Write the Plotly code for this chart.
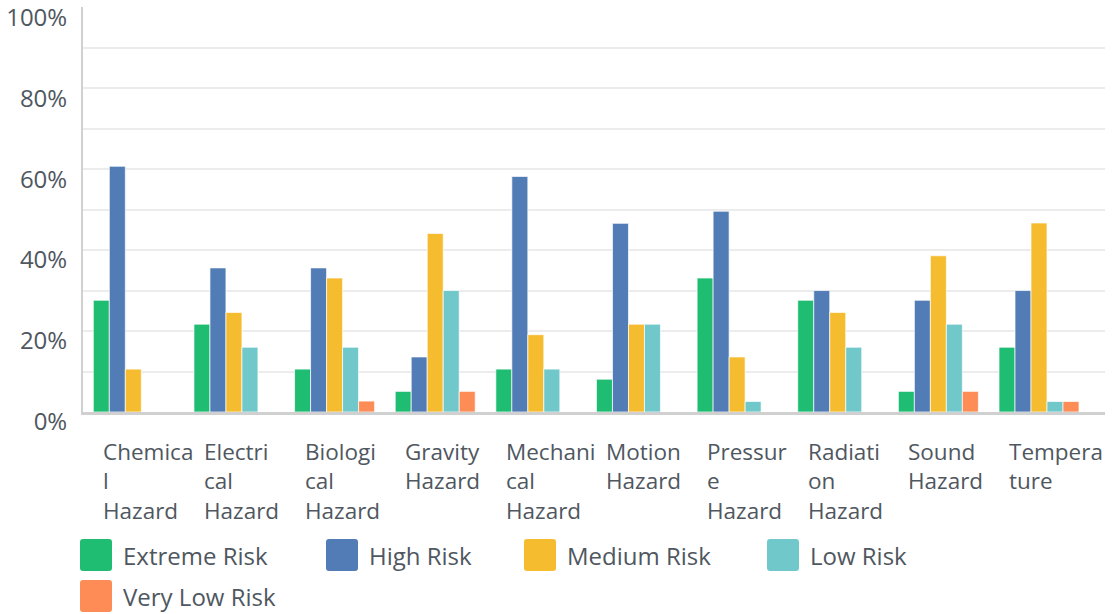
import plotly.graph_objects as go

categories = ["Chemical Hazard", "Electrical Hazard", "Biological Hazard", "Gravity Hazard",
              "Mechanical Hazard", "Motion Hazard", "Pressure Hazard", "Radiation Hazard",
              "Sound Hazard", "Temperature"]
# wrapped the way the narrow category slots break them
category_labels = ["Chemica<br>l<br>Hazard", "Electri<br>cal<br>Hazard", "Biologi<br>cal<br>Hazard",
                   "Gravity<br>Hazard", "Mechani<br>cal<br>Hazard", "Motion<br>Hazard",
                   "Pressur<br>e<br>Hazard", "Radiati<br>on<br>Hazard", "Sound<br>Hazard",
                   "Tempera<br>ture"]

series_names = ["Extreme Risk", "High Risk", "Medium Risk", "Low Risk", "Very Low Risk"]
extreme_risk = [27.6, 21.7, 10.6, 5.1, 10.6, 8.1, 33.1, 27.6, 5.1, 16.0]
high_risk = [60.7, 35.6, 35.6, 13.6, 58.2, 46.6, 49.6, 30.0, 27.6, 30.0]
medium_risk = [10.6, 24.6, 33.1, 44.1, 19.1, 21.7, 13.6, 24.6, 38.6, 46.7]
low_risk = [0.0, 16.0, 16.0, 30.0, 10.6, 21.7, 2.6, 16.0, 21.7, 2.6]
very_low_risk = [0.0, 0.0, 2.7, 5.1, 0.0, 0.0, 0.0, 0.0, 5.1, 2.6]
series_values = [extreme_risk, high_risk, medium_risk, low_risk, very_low_risk]
colors = ["#1ebd71", "#517cb5", "#f6bc2f", "#71c8ca", "#fe8c56"]

y_tick_vals = [0, 20, 40, 60, 80, 100]
y_tick_text = ["0%", "20%", "40%", "60%", "80%", "100%"]

# the chart box ends at the plot's right edge, so overflowing text is cut there
W, H = 1105, 614
ML, MR, MT, MB = 83, 0, 7, 202
PW, PH = W - ML - MR, H - MT - MB
TEXT = "#4f5760"
FONT = "Open Sans"

fig = go.Figure()
for name, vals, col in zip(series_names, series_values, colors):
    fig.add_trace(go.Bar(
        x=categories, y=vals, name=name, marker_color=col,
        marker_line=dict(color="rgba(255,255,255,0.7)", width=1),
        showlegend=False, hoverinfo="skip",
    ))

# wrapped, left-aligned category labels under each group
annotations = []
for cat, lab in zip(categories, category_labels):
    annotations.append(dict(
        x=cat, xref="x", y=0, yref="paper", yanchor="top", xanchor="left",
        xshift=-32, yshift=-22, text=lab, align="left", showarrow=False,
        font=dict(family=FONT, size=22.5, color=TEXT),
    ))


# legend: rounded swatch + label, laid out in two rows below the axis
def px_x(px):
    return (px - ML) / PW


def px_y(py):
    return (MT + PH - py) / PH


def rounded_square(x, y, size, r):
    x0, x1 = px_x(x), px_x(x + size)
    y0, y1 = px_y(y + size), px_y(y)
    rx, ry = r / PW, r / PH
    return (f"M{x0 + rx},{y1} L{x1 - rx},{y1} Q{x1},{y1} {x1},{y1 - ry} "
            f"L{x1},{y0 + ry} Q{x1},{y0} {x1 - rx},{y0} L{x0 + rx},{y0} "
            f"Q{x0},{y0} {x0},{y0 + ry} L{x0},{y1 - ry} Q{x0},{y1} {x0 + rx},{y1} Z")


legend_slots = [(80, 539), (326, 539), (524, 539), (767, 539), (80, 580)]
shapes = []
sw = 32
for name, col, (lx, ly) in zip(series_names, colors, legend_slots):
    shapes.append(dict(type="path", xref="paper", yref="paper",
                       path=rounded_square(lx, ly, sw, 3),
                       fillcolor=col, line=dict(width=0), layer="above"))
    annotations.append(dict(
        x=px_x(lx + 41), xref="paper", y=px_y(ly + sw / 2), yref="paper",
        xanchor="left", yanchor="middle", text=name, showarrow=False,
        font=dict(family=FONT, size=24, color=TEXT),
    ))

fig.update_layout(
    width=W, height=H,
    margin=dict(l=ML, r=MR, t=MT, b=MB, pad=0, autoexpand=False),
    paper_bgcolor="white", plot_bgcolor="white",
    barmode="group", bargap=0.205, bargroupgap=0,
    font=dict(family=FONT, color=TEXT),
    annotations=annotations, shapes=shapes,
    xaxis=dict(
        showticklabels=False, showgrid=False, zeroline=False,
        showline=True, linecolor="#d0d0d0", linewidth=2.5, ticks="",
        fixedrange=True, automargin=False,
    ),
    yaxis=dict(
        range=[0, 100.05], tickmode="array", tickvals=y_tick_vals, ticktext=y_tick_text,
        showgrid=False, zeroline=False, automargin=False,
        showline=True, linecolor="#d0d0d0", linewidth=2,
        ticks="", ticklabelstandoff=9, ticklabelshift=10,
        ticklabeloverflow="allow",
        tickfont=dict(family=FONT, size=24, color=TEXT),
        minor=dict(tickmode="array", tickvals=[10, 20, 30, 40, 50, 60, 70, 80, 90],
                   showgrid=True, gridcolor="#ececec", gridwidth=1.5, ticks=""),
        fixedrange=True,
    ),
)

fig.write_html("out.html", config={"displayModeBar": False})
